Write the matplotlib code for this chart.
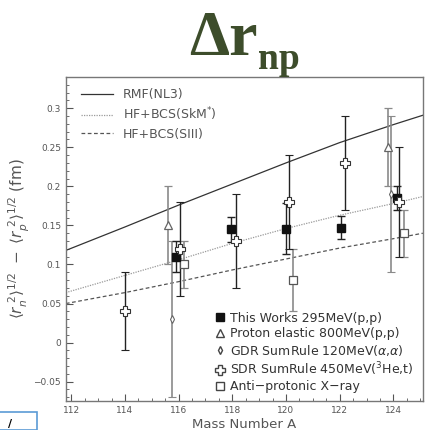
import matplotlib
matplotlib.use('Agg')
import matplotlib.pyplot as plt
from matplotlib.lines import Line2D
from matplotlib.patches import Rectangle
from matplotlib.ticker import MultipleLocator

# model curves
A_model = [111.8, 114, 116, 118, 120, 122, 124, 125.1]
rmf_nl3 = [0.118, 0.148, 0.176, 0.203, 0.230, 0.256, 0.279, 0.291]
hf_skm = [0.064, 0.086, 0.106, 0.127, 0.146, 0.163, 0.178, 0.187]
hf_siii = [0.050, 0.064, 0.078, 0.093, 0.107, 0.121, 0.133, 0.140]

# data sets
A_this = [115.90, 117.95, 120.01, 122.06, 124.12]
dr_this = [0.110, 0.145, 0.146, 0.147, 0.185]
err_this = [0.020, 0.016, 0.033, 0.015, 0.015]

A_pel = [115.59, 123.79]
dr_pel = [0.150, 0.250]
err_pel = [0.050, 0.050]

A_gdr = [115.74, 123.93]
dr_gdr = [0.030, 0.190]
err_gdr = [0.100, 0.100]

A_sdr = [114.0, 116.07, 118.13, 120.13, 122.2, 124.22]
dr_sdr = [0.040, 0.120, 0.130, 0.180, 0.230, 0.180]
err_sdr = [0.050, 0.060, 0.060, 0.060, 0.060, 0.070]

A_xray = [116.2, 120.26, 124.41]
dr_xray = [0.100, 0.080, 0.140]
err_xray = [0.030, 0.040, 0.030]

txt = '#555555'
gray = '#8a8a8a'

fig = plt.figure(figsize=(4.25, 4.3), dpi=100)
ax = fig.add_axes([0.155, 0.067, 0.840, 0.754])

l1, = ax.plot(A_model, rmf_nl3, color='#333333', lw=0.9)
l2, = ax.plot(A_model, hf_skm, color='#9a9a9a', lw=0.9, ls=(0, (1, 1)))
l3, = ax.plot(A_model, hf_siii, color='#555555', lw=0.9, ls=(0, (3, 2)))

ax.errorbar(A_gdr, dr_gdr, yerr=err_gdr, fmt='d', ms=4, mfc='white', mec='#666666',
            mew=0.8, ecolor=gray, elinewidth=1.2, capsize=3, capthick=1.2)
ax.errorbar(A_pel, dr_pel, yerr=err_pel, fmt='^', ms=6, mfc='white', mec='#666666',
            mew=0.9, ecolor=gray, elinewidth=1.2, capsize=3, capthick=1.2)
ax.errorbar(A_xray, dr_xray, yerr=err_xray, fmt='s', ms=6, mfc='white', mec='#555555',
            mew=0.9, ecolor=gray, elinewidth=1.2, capsize=3, capthick=1.2)
ax.errorbar(A_this, dr_this, yerr=err_this, fmt='s', ms=6, mfc='#111111', mec='#111111',
            ecolor='#222222', elinewidth=1.0, capsize=3, capthick=1.0)
ax.errorbar(A_sdr, dr_sdr, yerr=err_sdr, fmt='P', ms=6.5, mfc='white', mec='#333333',
            mew=0.8, ecolor='#222222', elinewidth=1.0, capsize=3, capthick=1.0)

ax.set_xlim(111.8, 125.1)
ax.set_ylim(-0.075, 0.34)
ax.xaxis.set_major_locator(MultipleLocator(2))
ax.xaxis.set_minor_locator(MultipleLocator(0.5))
ax.yaxis.set_major_locator(MultipleLocator(0.05))
ax.yaxis.set_minor_locator(MultipleLocator(0.01))
ax.tick_params(which='both', direction='in', colors='#555555', labelsize=6.5,
               top=False, right=False)
ax.tick_params(which='major', length=5, width=0.8)
ax.tick_params(which='minor', length=2.5, width=0.6)
ax.set_yticks([-0.05, 0, 0.05, 0.1, 0.15, 0.2, 0.25, 0.3])
ax.set_yticklabels(['\u22120.05', '0', '0.05', '0.1', '0.15', '0.2', '0.25', '0.3'])
for s in ax.spines.values():
    s.set_color('#777777')
    s.set_linewidth(1.0)

ax.set_xlabel('Mass Number A', color=txt, fontsize=9.5, labelpad=2)
ax.set_ylabel(r'$\langle r_n^{\ 2}\rangle^{1/2}\ -\ \langle r_p^{\ 2}\rangle^{1/2}$ (fm)',
              color=txt, fontsize=11, labelpad=1)

leg1 = ax.legend([l1, l2, l3], ['RMF(NL3)', 'HF+BCS(SkM$^{*}$)', 'HF+BCS(SIII)'],
                 loc='upper left', bbox_to_anchor=(0.01, 1.0), frameon=False,
                 fontsize=9, handlelength=2.6, handletextpad=0.8, labelspacing=0.35,
                 labelcolor=txt)
ax.add_artist(leg1)

h = [Line2D([], [], ls='none', marker='s', ms=6, mfc='#111111', mec='#111111'),
     Line2D([], [], ls='none', marker='^', ms=6, mfc='white', mec='#444444'),
     Line2D([], [], ls='none', marker='d', ms=4, mfc='white', mec='#444444'),
     Line2D([], [], ls='none', marker='P', ms=7, mfc='white', mec='#444444'),
     Line2D([], [], ls='none', marker='s', ms=6, mfc='white', mec='#444444')]
lab = ['This Works 295MeV(p,p)', 'Proton elastic 800MeV(p,p)',
       r'GDR SumRule 120MeV($\alpha$,$\alpha$)', 'SDR SumRule 450MeV($^{3}$He,t)',
       'Anti\u2212protonic X\u2212ray']
ax.legend(h, lab, loc='lower right', bbox_to_anchor=(1.005, -0.01), frameon=False,
          fontsize=9, handlelength=0.6, handletextpad=0.45, labelspacing=0.2,
          labelcolor='#333333')

# title
fig.text(0.445, 0.872, '\u0394r', fontsize=46, fontweight='bold',
         family='Liberation Serif', color='#3d4d2b', ha='left', va='baseline')
fig.text(0.607, 0.840, 'np', fontsize=27, fontweight='bold',
         family='Liberation Serif', color='#3d4d2b', ha='left', va='baseline')

# slide remnants
fig.patches.append(Rectangle((-0.01, 0.0), 0.097, 0.042, transform=fig.transFigure,
                             fill=False, edgecolor='#5b9bd5', lw=1.2))
fig.text(0.018, 0.008, '/', fontsize=8, color='black', fontweight='bold')

fig.savefig('out.png', dpi=100)
